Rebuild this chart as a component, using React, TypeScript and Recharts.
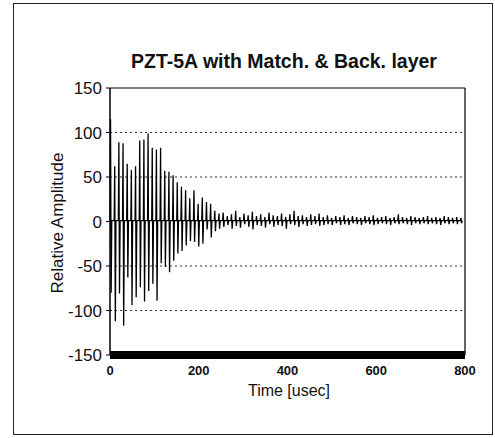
import React from 'react'
import { LineChart, Line, XAxis, YAxis, ReferenceLine } from 'recharts'

// ringing period of the burst, usec
const cyclePeriod = 9.4

// positive / negative peak per ring cycle
const posPeaks = [
  115, 62, 89, 88, 65, 58, 62, 91, 92, 99, 83, 81, 83, 57, 56, 52, 44, 39, 35, 26,
  35, 20, 27, 22, 20, 12, 9,
  10, 6, 8, 12, 5, 9, 7, 11, 6, 8, 5, 10, 7, 6, 9, 5, 8, 12, 6, 7,
  5, 8, 6, 9, 5, 7, 4, 6, 5, 7, 4, 6, 5, 4, 6, 5, 7, 4, 5, 6,
  4, 5, 8, 5, 4, 6, 5, 4, 5, 6, 4, 5, 4, 6, 5, 4, 5, 4,
]
const negPeaks = [
  -80, -112, -81, -117, -63, -94, -85, -74, -90, -78, -70, -89, -47, -51, -57, -44, -36, -33, -27, -22,
  -23, -28, -25, -9, -18, -11, -8,
  -6, -4, -8, -5, -7, -3, -6, -9, -4, -5, -7, -3, -6, -4, -5, -8, -3, -4, -6, -3,
  -5, -4, -3, -5, -4, -3, -4, -2, -4, -3, -4, -2, -3, -4, -2, -3, -4, -3, -2, -3,
  -4, -2, -3, -2, -3, -4, -2, -3, -2, -3, -2, -3, -4, -2, -3, -2, -3, -2,
]
const restLevel = 1

const yTicks = [-150, -100, -50, 0, 50, 100, 150]
const xTicks = [0, 200, 400, 600, 800]
const gridLevels = [100, 50, -50, -100]

const data: { t: number; v: number }[] = []
const n = Math.min(posPeaks.length, negPeaks.length)
for (let i = 0; i < n; i++) {
  const t0 = i * cyclePeriod
  data.push({ t: t0, v: restLevel })
  data.push({ t: t0 + 1.2, v: posPeaks[i] })
  data.push({ t: t0 + 2.6, v: negPeaks[i] })
  data.push({ t: t0 + 4, v: restLevel })
}

const font = '"Liberation Sans", Arial, sans-serif'

export default function App() {
  return (
    <div
      style={{
        position: 'absolute',
        left: 13,
        top: 3,
        width: 480,
        height: 432,
        border: '1px solid #222',
        boxSizing: 'border-box',
        background: '#fff',
        fontFamily: font,
      }}
    >
      <div
        style={{
          position: 'absolute',
          left: 0,
          width: 540,
          top: 46,
          textAlign: 'center',
          fontSize: 19.5,
          fontWeight: 'bold',
          color: '#111',
        }}
      >
        PZT-5A with Match. &amp; Back. layer
      </div>
      <div
        style={{
          position: 'absolute',
          left: 44,
          top: 219,
          transform: 'translate(-50%, -50%) rotate(-90deg)',
          fontSize: 17,
          whiteSpace: 'nowrap',
          color: '#111',
        }}
      >
        Relative Amplitude
      </div>
      <div
        style={{
          position: 'absolute',
          left: 275,
          top: 378,
          transform: 'translateX(-50%)',
          fontSize: 16,
          whiteSpace: 'nowrap',
          color: '#111',
        }}
      >
        Time [usec]
      </div>
      <LineChart
        width={480}
        height={432}
        data={data}
        margin={{ top: 85, right: 28, left: 37, bottom: 50 }}
        style={{ position: 'absolute', left: -1, top: -1 }}
      >
        <XAxis
          dataKey="t"
          type="number"
          domain={[0, 800]}
          ticks={xTicks}
          height={30}
          tickLine={false}
          tickSize={4}
          tickMargin={7}
          axisLine={{ stroke: '#000', strokeWidth: 8 }}
          tick={{ fill: '#111', fontSize: 13, fontWeight: 'bold', fontFamily: font }}
        />
        <YAxis
          type="number"
          domain={[-150, 150]}
          ticks={yTicks}
          width={60}
          tickSize={4}
          tickMargin={4}
          axisLine={{ stroke: '#000', strokeWidth: 1.5 }}
          tickLine={{ stroke: '#000' }}
          tick={{ fill: '#111', fontSize: 17, fontFamily: font }}
          interval={0}
        />
        {gridLevels.map((g) => (
          <ReferenceLine key={g} y={g} stroke="#333" strokeWidth={1} strokeDasharray="2 3" />
        ))}
        <ReferenceLine y={150} stroke="#000" strokeWidth={1.2} />
        <ReferenceLine x={800} stroke="#000" strokeWidth={1.2} />
        <Line
          type="linear"
          dataKey="v"
          stroke="#000"
          strokeWidth={1.3}
          dot={false}
          isAnimationActive={false}
        />
      </LineChart>
    </div>
  )
}
